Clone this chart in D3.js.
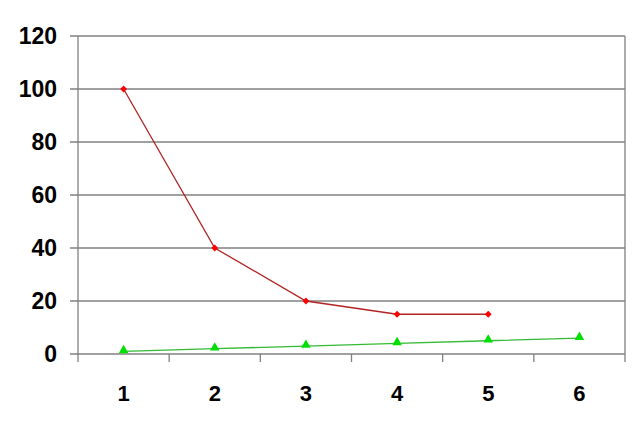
<!DOCTYPE html>
<html><head><meta charset="utf-8">
<script src="https://cdn.jsdelivr.net/npm/d3@7"></script>
<style>body{margin:0;background:#fff}svg{display:block}</style>
</head><body>
<svg id="c" width="640" height="428"></svg>
<script>
const categories = ["1","2","3","4","5","6"];
const seriesRed = [100, 40, 20, 15, 15, null];
const seriesGreen = [1, 2, 3, 4, 5, 6];
const yTicks = [0, 20, 40, 60, 80, 100, 120];

const svg = d3.select("#c");
const L = 78, R = 625, T = 36, B = 354;
const x = d3.scaleBand().domain(categories).range([L, R]);
const y = d3.scaleLinear().domain([0, 120]).range([B, T]);
const grid = "#808080";

svg.append("g").selectAll("line").data(yTicks).join("line")
  .attr("x1", L - 8).attr("x2", R).attr("y1", d => y(d)).attr("y2", d => y(d))
  .attr("stroke", grid).attr("stroke-width", 1.3);
svg.append("line").attr("x1", L).attr("x2", L).attr("y1", T).attr("y2", B + 8).attr("stroke", grid).attr("stroke-width", 1.3);
svg.append("line").attr("x1", R).attr("x2", R).attr("y1", T).attr("y2", B + 8).attr("stroke", grid).attr("stroke-width", 1.3);
const bounds = categories.map(c => x(c)).slice(1);
svg.append("g").selectAll("line").data(bounds).join("line")
  .attr("x1", d => d).attr("x2", d => d).attr("y1", B).attr("y2", B + 8)
  .attr("stroke", grid).attr("stroke-width", 1.3);

svg.append("g").selectAll("text").data(yTicks).join("text")
  .attr("x", 57).attr("y", d => y(d)).attr("dy", "0.36em").attr("text-anchor", "end")
  .attr("font-family", "Liberation Sans, Arial, sans-serif").attr("font-weight", "bold").attr("font-size", 23)
  .text(d => d);
svg.append("g").selectAll("text").data(categories).join("text")
  .attr("x", d => x(d) + x.bandwidth() / 2).attr("y", 401).attr("text-anchor", "middle")
  .attr("font-family", "Liberation Sans, Arial, sans-serif").attr("font-weight", "bold").attr("font-size", 22)
  .text(d => d);

const cx = i => x(categories[i]) + x.bandwidth() / 2;
const redPts = seriesRed.map((v, i) => ({i, v})).filter(d => d.v != null);
svg.append("path").datum(redPts)
  .attr("d", d3.line().x(d => cx(d.i)).y(d => y(d.v)))
  .attr("fill", "none").attr("stroke", "#b22222").attr("stroke-width", 1.3);
svg.append("g").selectAll("path").data(redPts).join("path")
  .attr("d", d3.symbol(d3.symbolDiamond2, 30)())
  .attr("transform", d => `translate(${cx(d.i)},${y(d.v)})`)
  .attr("fill", "#ff0000");
const greenPts = seriesGreen.map((v, i) => ({i, v}));
svg.append("path").datum(greenPts)
  .attr("d", d3.line().x(d => cx(d.i)).y(d => y(d.v)))
  .attr("fill", "none").attr("stroke", "#33bb33").attr("stroke-width", 1.3);
svg.append("g").selectAll("path").data(greenPts).join("path")
  .attr("d", d3.symbol(d3.symbolTriangle, 40)())
  .attr("transform", d => `translate(${cx(d.i)},${y(d.v) - 1})`)
  .attr("fill", "#00e000");
</script>
</body></html>
